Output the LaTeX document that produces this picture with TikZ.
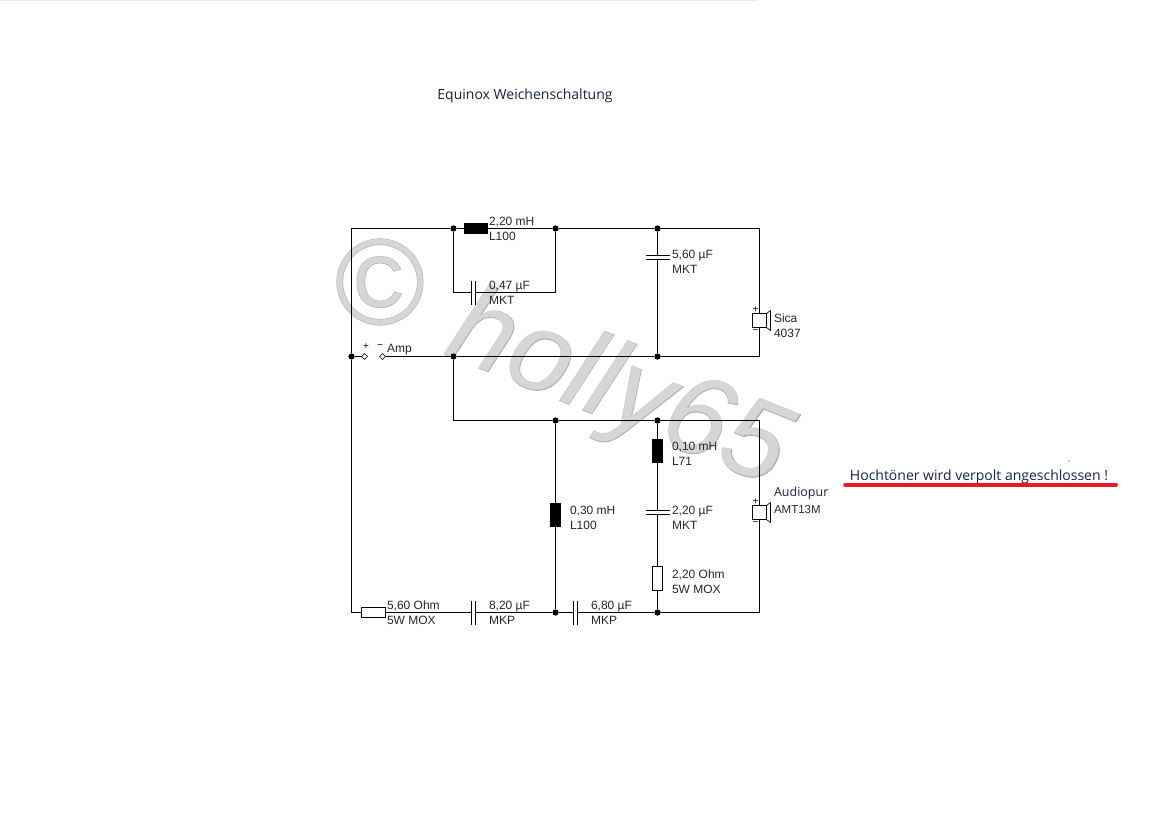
\documentclass[tikz,border=0pt]{standalone}
\usepackage{fontspec}
\usetikzlibrary{shapes.geometric}
\setmainfont{Liberation Sans}
\newfontfamily\notefont{Open Sans}
\newfontfamily\wmfont[FakeBold=0.8]{Liberation Sans}
\definecolor{navy}{RGB}{20,35,70}
\definecolor{redline}{RGB}{235,25,40}
\tikzset{
  every node/.style={outer sep=0pt},
  dotn/.style={circle,fill,inner sep=2.2pt},
  term/.style={diamond,draw,fill=white,inner sep=1.5pt,line width=0.6pt},
  coilh/.style={rectangle,fill,inner sep=0pt,minimum width=24pt,minimum height=11pt},
  coilv/.style={rectangle,fill,inner sep=0pt,minimum width=11pt,minimum height=24pt},
  resh/.style={rectangle,draw,fill=white,inner sep=0pt,minimum width=24pt,minimum height=10pt},
  resv/.style={rectangle,draw,fill=white,inner sep=0pt,minimum width=10pt,minimum height=24pt},
  caph/.style={rectangle,inner sep=0pt,minimum width=24pt,minimum height=4pt},
  capv/.style={rectangle,inner sep=0pt,minimum width=4pt,minimum height=24pt},
  spk/.style={rectangle,draw,fill=white,inner sep=0pt,minimum width=14pt,minimum height=14pt},
  lbl/.style={anchor=west,align=left,inner sep=0pt,font=\fontsize{12}{15}\selectfont,text=black!85},
  sgn/.style={inner sep=0pt,font=\fontsize{10}{10}\selectfont},
  wback/.style={inner sep=0pt,text=black!30},
  wfront/.style={inner sep=0pt,text=black!16}
}
\begin{document}
\begin{tikzpicture}[x=1pt,y=-1pt,line width=1pt]
  \useasboundingbox (0,0) rectangle (1175,836);
  \draw[black!8] (0,0.5) -- (757,0.5);
  % watermark
  \node[wback,font=\wmfont\fontsize{122}{122}\selectfont] (copyb) at (380,282) {©};
  \node[wfront,font=\fontsize{122}{122}\selectfont] (copyf) at (380,282) {©};
  \node[wback,rotate=-22,font=\wmfont\itshape\fontsize{112}{112}\selectfont] (hollyb) at (618,393) {holly65};
  \node[wfront,rotate=-22,font=\itshape\fontsize{112}{112}\selectfont] (hollyf) at (618,393) {holly65};
  % titles
  \node[inner sep=0pt,text=navy,font=\notefont\fontsize{14}{16}\selectfont] (title) at (525,96) {Equinox Weichenschaltung};
  \node[inner sep=0pt,text=navy,font=\notefont\fontsize{14}{16}\selectfont] (note) at (979,477) {Hochtöner wird verpolt angeschlossen !};
  \coordinate (ula) at (845,485);
  \coordinate (ulb) at (1116,485);
  \draw[redline,line width=3.6pt,line cap=round] (ula) -- (ulb);
  \node[circle,fill=navy,inner sep=0.5pt] (speck) at (1069,461) {};
  \begin{scope}[shift={(0.5,0.5)}]
  % junctions
  \node (a1) at (453,228) [dotn] {};
  \node (a2) at (555,228) [dotn] {};
  \node (a3) at (657,228) [dotn] {};
  \node (b0) at (351,356) [dotn] {};
  \node (b1) at (453,356) [dotn] {};
  \node (b3) at (657,356) [dotn] {};
  \node (c2) at (555,420) [dotn] {};
  \node (c3) at (657,420) [dotn] {};
  \node (d2) at (555,612) [dotn] {};
  \node (d3) at (657,612) [dotn] {};
  % corners
  \coordinate (tl) at (351,228);
  \coordinate (tr) at (759,228);
  \coordinate (mr) at (759,356);
  \coordinate (lr) at (759,420);
  \coordinate (br) at (759,612);
  \coordinate (bl) at (351,612);
  \coordinate (p1) at (453,292);
  \coordinate (p2) at (555,292);
  \coordinate (p3) at (453,420);
  % terminals
  \node (tp) at (364,356) [term] {};
  \node (tm) at (382,356) [term] {};
  % parts
  \node (l1) at (475,228) [coilh] {};
  \node (l2) at (555,514) [coilv] {};
  \node (l3) at (657,450) [coilv] {};
  \node (r1) at (373,612) [resh] {};
  \node (r2) at (657,578) [resv] {};
  \node (k1) at (473,292) [capv] {};
  \node (k2) at (657,257) [caph] {};
  \node (k3) at (657,512) [caph] {};
  \node (k4) at (473,612) [capv] {};
  \node (k5) at (575,612) [capv] {};
  % wires
  \draw (b0) -- (tl) -- (a1) -- (l1) -- (a2) -- (a3) -- (tr) -- (mr) -- (b3) -- (b1) -- (tm);
  \draw (b0) -- (tp);
  \draw (b0) -- (bl) -- (r1) -- (k4) -- (d2) -- (k5) -- (d3) -- (br) -- (lr) -- (c3) -- (c2) -- (p3) -- (b1);
  \draw (a1) -- (p1) -- (k1) -- (p2) -- (a2);
  \draw (a3) -- (k2) -- (b3);
  \draw (c2) -- (l2) -- (d2);
  \draw (c3) -- (l3) -- (k3) -- (r2) -- (d3);
  % plates
  \foreach \k in {k1,k4,k5} {
    \draw (\k.north west) -- (\k.south west) (\k.north east) -- (\k.south east);
  }
  \foreach \k in {k2,k3} {
    \draw (\k.north west) -- (\k.north east) (\k.south west) -- (\k.south east);
  }
  % speakers sit on the wire
  \node (s1) at (759,320) [spk] {};
  \node (s2) at (759,512) [spk] {};
  \foreach \s in {s1,s2} {
    \draw[line width=0.7pt] (\s.north east) -- ++(4,-3) -- ++(0,20) -- (\s.south east);
    \node[sgn] (\s p) at ([xshift=-4pt,yshift=4pt]\s.north) {+};
    \node[sgn] (\s m) at ([xshift=-4pt,yshift=-4pt]\s.south) {−};
  }
  \end{scope}
  \node[sgn] (tpl) at (366,347) {+};
  \node[sgn] (tml) at (380,347) {−};
  % labels
  \node[lbl] (lamp) at (387,350) {Amp};
  \node[lbl] (ll1) at (489,229) {2,20 mH\\L100};
  \node[lbl] (lk1) at (489,293) {0,47 µF\\MKT};
  \node[lbl] (lk2) at (672,262) {5,60 µF\\MKT};
  \node[lbl] (ls1) at (774,326) {Sica\\4037};
  \node[lbl] (ll3) at (672,454) {0,10 mH\\L71};
  \node[lbl] (lk3) at (672,518) {2,20 µF\\MKT};
  \node[lbl] (lr2) at (672,582) {2,20 Ohm\\5W MOX};
  \node[lbl] (ll2) at (570,518) {0,30 mH\\L100};
  \node[lbl] (lr1) at (387,613) {5,60 Ohm\\5W MOX};
  \node[lbl] (lk4) at (489,613) {8,20 µF\\MKP};
  \node[lbl] (lk5) at (591,613) {6,80 µF\\MKP};
  \node[lbl,text=navy,font=\notefont\fontsize{12.5}{15}\selectfont] (ls2a) at (774,493) {Audiopur};
  \node[lbl,font=\fontsize{11.5}{15}\selectfont] (ls2b) at (774,510) {AMT13M};
\end{tikzpicture}
\end{document}
